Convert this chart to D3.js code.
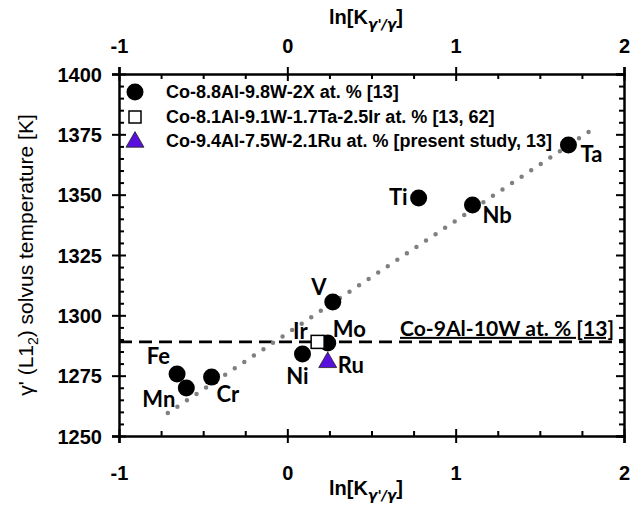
<!DOCTYPE html>
<html>
<head>
<meta charset="utf-8">
<script src="https://cdn.jsdelivr.net/npm/d3@7"></script>
<style>
  body { margin: 0; background: #fff; }
  svg { display: block; }
  .tick text { font-family: "Liberation Sans", Arial, sans-serif; font-weight: bold; font-size: 20px; fill: #000; }
  .elabel { font-family: Lato, "Open Sans", sans-serif; font-weight: bold; font-size: 22px; fill: #000; }
  .legend text { font-family: "Liberation Sans", Arial, sans-serif; font-weight: bold; font-size: 18px; }
</style>
</head>
<body>
<svg id="chart" width="634" height="508"></svg>
<script>
// ---- data ----
var elements = ["Ta", "Ti", "Nb", "V", "Mo", "Ni", "Fe", "Mn", "Cr"];
var lnK      = [1.67, 0.78, 1.10, 0.27, 0.24, 0.09, -0.655, -0.60, -0.45];
var tSolvus  = [1370.6, 1348.6, 1345.7, 1305.5, 1288.5, 1284.0, 1275.7, 1269.9, 1274.4];

var irName = "Ir", irLnK = 0.18, irT = 1289.0;      // Co-8.1Al-9.1W-1.7Ta-2.5Ir
var ruName = "Ru", ruLnK = 0.24, ruT = 1280.5;      // present study

var trendLnK = [-0.71, 1.79];
var trendT   = [1259.5, 1376.0];

var baseT = 1289;   // Co-9Al-10W
var baseLabel = "Co-9Al-10W at. % [13]";

var xTicks = [-1, 0, 1, 2];
var yTicks = [1250, 1275, 1300, 1325, 1350, 1375, 1400];

var legendLabels = [
  "Co-8.8Al-9.8W-2X at. % [13]",
  "Co-8.1Al-9.1W-1.7Ta-2.5Ir at. % [13, 62]",
  "Co-9.4Al-7.5W-2.1Ru at. % [present study, 13]"
];

// label placement (pixels relative to point)
var labelPos = {
  Ta: [12, 17, "start"], Ti: [-11, 7, "end"], Nb: [10, 18, "start"],
  V: [-14, -7, "middle"], Mo: [5, -6, "start"], Ni: [-5, 30, "middle"],
  Fe: [-7, -10, "end"], Mn: [-11, 19, "end"], Cr: [5, 25, "start"],
  Ir: [-10, -3, "end"], Ru: [10, 11, "start"]
};

var purple = "#5a10dc";
var plain = function(d) { return String(d); };

var svg = d3.select("svg#chart");

var x = d3.scaleLinear().domain([-1, 2]).range([119, 624]);
var y = d3.scaleLinear().domain([1250, 1400]).range([436, 74]);

var x0 = x.range()[0], x1 = x.range()[1];
var yTop = y.range()[1], yBot = y.range()[0];

// minor ticks
var xMinor = d3.range(-1, 2.001, 0.25).filter(function(v) { return Math.abs(v - Math.round(v)) > 1e-6; });
var yMinor = d3.range(1250, 1400.1, 5).filter(function(v) { return v % 25 != 0; });

svg.append("g").attr("transform", "translate(0," + yBot + ")")
  .call(d3.axisBottom(x).tickValues(xMinor).tickSize(-5).tickFormat(""))
  .call(function(g) { g.select(".domain").remove(); });
svg.append("g").attr("transform", "translate(0," + yTop + ")")
  .call(d3.axisTop(x).tickValues(xMinor).tickSize(-5).tickFormat(""))
  .call(function(g) { g.select(".domain").remove(); });
svg.append("g").attr("transform", "translate(" + x0 + ",0)")
  .call(d3.axisLeft(y).tickValues(yMinor).tickSize(-5).tickFormat(""))
  .call(function(g) { g.select(".domain").remove(); });
svg.append("g").attr("transform", "translate(" + x1 + ",0)")
  .call(d3.axisRight(y).tickValues(yMinor).tickSize(-5).tickFormat(""))
  .call(function(g) { g.select(".domain").remove(); });

// major axes
var bottomAxis = svg.append("g").attr("transform", "translate(0," + yBot + ")")
  .call(d3.axisBottom(x).tickValues(xTicks).tickSize(7).tickFormat(plain));
bottomAxis.selectAll(".tick line").attr("y1", -7);
bottomAxis.selectAll(".tick text").attr("y", 44).attr("dy", 0);

var topAxis = svg.append("g").attr("transform", "translate(0," + yTop + ")")
  .call(d3.axisTop(x).tickValues(xTicks).tickSize(7).tickFormat(plain));
topAxis.selectAll(".tick line").attr("y1", 7);
topAxis.selectAll(".tick text").attr("y", -21).attr("dy", 0);

var leftAxis = svg.append("g").attr("transform", "translate(" + x0 + ",0)")
  .call(d3.axisLeft(y).tickValues(yTicks).tickSize(7).tickFormat(plain));
leftAxis.selectAll(".tick line").attr("x1", 7);
leftAxis.selectAll(".tick text").attr("x", -17).attr("dy", "0.36em");

var rightAxis = svg.append("g").attr("transform", "translate(" + x1 + ",0)")
  .call(d3.axisRight(y).tickValues(yTicks).tickSize(-8).tickFormat(""));

svg.selectAll(".domain").attr("stroke", "#000").attr("stroke-width", 2.5);
svg.selectAll(".tick line").attr("stroke", "#000").attr("stroke-width", 2);

// axis titles
function lnTitle(sel) {
  sel.append("tspan").text("ln[K");
  sel.append("tspan").attr("font-family", "DejaVu Sans, sans-serif").attr("font-size", 14)
    .attr("font-style", "oblique").attr("dy", 5).text("\u03b3'/\u03b3");
  sel.append("tspan").attr("dy", -5).text("]");
}
svg.append("text").attr("x", 366).attr("y", 495).attr("text-anchor", "middle")
  .attr("font-family", "Liberation Sans, Arial, sans-serif").attr("font-weight", "bold").attr("font-size", 20)
  .call(lnTitle);
svg.append("text").attr("x", 366).attr("y", 24).attr("text-anchor", "middle")
  .attr("font-family", "Liberation Sans, Arial, sans-serif").attr("font-weight", "bold").attr("font-size", 20)
  .call(lnTitle);

var yTitle = svg.append("text")
  .attr("transform", "translate(33," + 255 + ") rotate(-90)")
  .attr("text-anchor", "middle")
  .attr("font-family", "Liberation Sans, Arial, sans-serif").attr("font-size", 21);
yTitle.append("tspan").text("\u03b3' (L1");
yTitle.append("tspan").attr("font-size", 14).attr("dy", 5).text("2");
yTitle.append("tspan").attr("dy", -5).text(") solvus temperature [K]");

// reference line Co-9Al-10W
svg.append("line")
  .attr("x1", x0).attr("x2", x1)
  .attr("y1", y(baseT)).attr("y2", y(baseT))
  .attr("stroke", "#000").attr("stroke-width", 2.6)
  .attr("stroke-dasharray", "13 7");
svg.append("text").attr("class", "elabel")
  .attr("x", 400).attr("y", y(baseT) - 6)
  .style("font-size", "20px")
  .attr("text-decoration", "underline")
  .attr("textLength", 214).attr("lengthAdjust", "spacingAndGlyphs")
  .text(baseLabel);

// dotted trend line
svg.append("path")
  .datum(d3.zip(trendLnK, trendT))
  .attr("d", d3.line().x(function(d) { return x(d[0]); }).y(function(d) { return y(d[1]); }))
  .attr("fill", "none").attr("stroke", "#808080").attr("stroke-width", 4.5)
  .attr("stroke-linecap", "round").attr("stroke-dasharray", "0 11.5");

// points: element additions
var pts = elements.map(function(e, i) { return { name: e, lnK: lnK[i], t: tSolvus[i] }; });

svg.append("g").selectAll("circle")
  .data(pts)
  .enter().append("circle")
  .attr("cx", function(d) { return x(d.lnK); })
  .attr("cy", function(d) { return y(d.t); })
  .attr("r", 8.5)
  .attr("fill", "#000");

// Ir square
svg.append("rect")
  .attr("x", x(irLnK) - 6.5).attr("y", y(irT) - 6.5)
  .attr("width", 13).attr("height", 13)
  .attr("fill", "#fff").attr("stroke", "#000").attr("stroke-width", 1.5);

// Ru triangle
svg.append("path")
  .attr("transform", "translate(" + x(ruLnK) + "," + y(ruT) + ")")
  .attr("d", d3.symbol().type(d3.symbolTriangle).size(140))
  .attr("fill", purple).attr("stroke", "#222").attr("stroke-width", 0.8);

// labels
var allLabels = pts.concat([{ name: irName, lnK: irLnK, t: irT }, { name: ruName, lnK: ruLnK, t: ruT }]);
svg.append("g").selectAll("text")
  .data(allLabels)
  .enter().append("text")
  .attr("class", "elabel")
  .attr("x", function(d) { return x(d.lnK) + labelPos[d.name][0]; })
  .attr("y", function(d) { return y(d.t) + labelPos[d.name][1]; })
  .attr("text-anchor", function(d) { return labelPos[d.name][2]; })
  .text(function(d) { return d.name; });

// legend
var legend = svg.append("g").attr("class", "legend");
var rowY = [92, 117, 141];
legend.append("circle").attr("cx", 135).attr("cy", rowY[0]).attr("r", 8.5).attr("fill", "#000");
legend.append("rect").attr("x", 129).attr("y", rowY[1] - 6).attr("width", 12).attr("height", 12)
  .attr("fill", "#fff").attr("stroke", "#000").attr("stroke-width", 1.5);
legend.append("path").attr("transform", "translate(135," + (rowY[2] + 1) + ")")
  .attr("d", d3.symbol().type(d3.symbolTriangle).size(140))
  .attr("fill", purple).attr("stroke", "#222").attr("stroke-width", 0.8);
legend.selectAll("text.lg")
  .data(legendLabels)
  .enter().append("text")
  .attr("class", "lg")
  .attr("x", 166)
  .attr("y", function(d, i) { return rowY[i] + 6; })
  .attr("textLength", function(d, i) { return i == 2 ? 386 : null; })
  .attr("lengthAdjust", "spacingAndGlyphs")
  .text(function(d) { return d; });
</script>
</body>
</html>
